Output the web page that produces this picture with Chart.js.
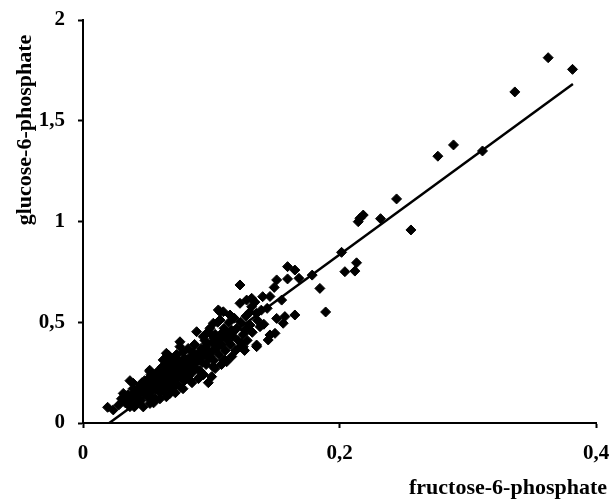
<!DOCTYPE html>
<html>
<head>
<meta charset="utf-8">
<script src="https://cdn.jsdelivr.net/npm/chart.js@4"></script>
<style>
    html, body { margin: 0; padding: 0; background: #fff; }
    #wrap { width: 611px; height: 501px; }
</style>
</head>
<body>
<div id="wrap"><canvas id="f6pChart"></canvas></div>
<script>
// Data
const xValues = [
    0.3627, 0.3817, 0.3367, 0.2889, 0.2767, 0.3115, 0.2445, 0.2146, 0.2159, 0.2185,
    0.232, 0.2557, 0.2016, 0.2133, 0.2042, 0.212, 0.1847, 0.1892, 0.1787, 0.1595,
    0.1652, 0.1595, 0.1684, 0.151, 0.1491, 0.1224, 0.1549, 0.1458, 0.1401, 0.1315,
    0.1354, 0.1436, 0.151, 0.1574, 0.1652, 0.1561, 0.138, 0.1458, 0.1497, 0.1444,
    0.1354, 0.1263, 0.1302, 0.1237, 0.1172, 0.1146, 0.1094, 0.1055, 0.1016, 0.1068,
    0.1224, 0.1276, 0.1315, 0.1003, 0.0938, 0.1107, 0.1003, 0.0977, 0.1354, 0.125,
    0.1094, 0.1016, 0.0912, 0.0834, 0.0192, 0.0236, 0.0314, 0.0392, 0.0522, 0.0665,
    0.0756, 0.0886, 0.1068, 0.0625, 0.0522, 0.0418, 0.034, 0.0561, 0.0704, 0.0808,
    0.0625, 0.0964, 0.112, 0.0366, 0.052, 0.065, 0.0756, 0.0964, 0.0366, 0.0522,
    0.0678, 0.0834, 0.112, 0.1224, 0.028, 0.030, 0.033, 0.035, 0.038, 0.040,
    0.042, 0.043, 0.045, 0.045, 0.047, 0.048, 0.050, 0.050, 0.051, 0.053,
    0.054, 0.055, 0.056, 0.057, 0.058, 0.059, 0.060, 0.060, 0.061, 0.062,
    0.063, 0.064, 0.065, 0.066, 0.067, 0.068, 0.068, 0.069, 0.070, 0.070,
    0.071, 0.072, 0.073, 0.073, 0.074, 0.075, 0.075, 0.076, 0.077, 0.078,
    0.078, 0.079, 0.080, 0.081, 0.082, 0.082, 0.083, 0.084, 0.085, 0.086,
    0.087, 0.088, 0.089, 0.090, 0.091, 0.092, 0.093, 0.094, 0.095, 0.096,
    0.097, 0.098, 0.099, 0.100, 0.101, 0.102, 0.103, 0.104, 0.105, 0.106,
    0.107, 0.108, 0.110, 0.111, 0.113, 0.114, 0.115, 0.117, 0.118, 0.119,
    0.120, 0.121, 0.123, 0.125, 0.127, 0.128, 0.130, 0.132, 0.134, 0.136,
    0.139, 0.141, 0.060, 0.055, 0.047, 0.040, 0.065, 0.072, 0.078, 0.085,
    0.090, 0.094, 0.103, 0.108, 0.116, 0.126, 0.036, 0.039, 0.044, 0.046,
    0.049, 0.052, 0.053, 0.057, 0.059, 0.062, 0.064, 0.066, 0.069, 0.071,
    0.074, 0.076, 0.079, 0.081, 0.084, 0.086, 0.088, 0.091, 0.093, 0.096,
    0.099, 0.102, 0.105, 0.109, 0.112, 0.116
];
const yValues = [
    1.813, 1.755, 1.643, 1.380, 1.324, 1.350, 1.112, 0.999, 1.016, 1.032,
    1.014, 0.958, 0.847, 0.795, 0.751, 0.754, 0.668, 0.551, 0.734, 0.776,
    0.759, 0.715, 0.718, 0.710, 0.673, 0.685, 0.610, 0.628, 0.627, 0.619,
    0.544, 0.569, 0.519, 0.528, 0.536, 0.495, 0.478, 0.437, 0.445, 0.412,
    0.379, 0.462, 0.486, 0.396, 0.453, 0.536, 0.552, 0.561, 0.495, 0.511,
    0.594, 0.610, 0.577, 0.437, 0.428, 0.313, 0.230, 0.200, 0.387, 0.379,
    0.313, 0.279, 0.230, 0.247, 0.078, 0.065, 0.147, 0.197, 0.255, 0.337,
    0.379, 0.453, 0.552, 0.180, 0.131, 0.097, 0.106, 0.213, 0.279, 0.313,
    0.313, 0.396, 0.445, 0.21, 0.262, 0.346, 0.403, 0.445, 0.081, 0.097,
    0.147, 0.213, 0.304, 0.379, 0.09, 0.12, 0.10, 0.14, 0.12, 0.15,
    0.13, 0.17, 0.11, 0.19, 0.15, 0.21, 0.13, 0.17, 0.22, 0.15,
    0.19, 0.24, 0.12, 0.17, 0.21, 0.26, 0.15, 0.19, 0.23, 0.28,
    0.16, 0.21, 0.25, 0.30, 0.18, 0.22, 0.27, 0.32, 0.16, 0.20,
    0.24, 0.29, 0.19, 0.34, 0.22, 0.26, 0.31, 0.18, 0.24, 0.28,
    0.35, 0.21, 0.26, 0.30, 0.23, 0.37, 0.27, 0.33, 0.25, 0.29,
    0.39, 0.27, 0.34, 0.31, 0.26, 0.37, 0.30, 0.34, 0.41, 0.29,
    0.36, 0.32, 0.47, 0.35, 0.40, 0.31, 0.44, 0.37, 0.50, 0.34,
    0.42, 0.39, 0.47, 0.36, 0.41, 0.50, 0.39, 0.43, 0.52, 0.36,
    0.47, 0.41, 0.50, 0.44, 0.53, 0.41, 0.55, 0.45, 0.60, 0.51,
    0.56, 0.49, 0.12, 0.10, 0.08, 0.08, 0.13, 0.15, 0.17, 0.20,
    0.22, 0.24, 0.27, 0.29, 0.33, 0.36, 0.13, 0.17, 0.15, 0.20,
    0.18, 0.20, 0.24, 0.22, 0.19, 0.25, 0.27, 0.20, 0.25, 0.28,
    0.30, 0.23, 0.32, 0.27, 0.30, 0.35, 0.32, 0.33, 0.36, 0.38,
    0.33, 0.42, 0.40, 0.45, 0.42, 0.46
];

// Regression line end points
const trendX = [0.0205, 0.382];
const trendY = [0, 1.682];

const xTicks = [0, 0.2, 0.4];
const yTicks = [0, 0.5, 1, 1.5, 2];
const xTitle = 'fructose-6-phosphate';
const yTitle = 'glucose-6-phosphate';

const serif = "'Liberation Serif', 'Times New Roman', serif";
const commaDecimal = value => String(value).replace('.', ',');

// axis titles sit off-centre in the reference, so draw them by hand
const axisTitles = {
    id: 'axisTitles',
    afterDraw(chart) {
        const { ctx, chartArea } = chart;
        ctx.save();
        ctx.fillStyle = '#000';
        ctx.font = 'bold 22px ' + serif;
        ctx.textAlign = 'right';
        ctx.textBaseline = 'alphabetic';
        ctx.fillText(xTitle, chartArea.right + 11, chartArea.bottom + 71);
        ctx.translate(chartArea.left - 58, chartArea.top + 110);
        ctx.rotate(-Math.PI / 2);
        ctx.textAlign = 'center';
        ctx.textBaseline = 'middle';
        ctx.fillText(yTitle, 0, 0);
        ctx.restore();
    }
};

const points = xValues.map((x, i) => ({ x: x, y: yValues[i] }));
const trend = trendX.map((x, i) => ({ x: x, y: trendY[i] }));

new Chart(document.getElementById('f6pChart'), {
    type: 'scatter',
    data: {
        datasets: [
            {
                data: points,
                pointStyle: 'rectRot',
                pointRadius: 5,
                pointBackgroundColor: '#000',
                pointBorderColor: '#000',
                pointBorderWidth: 1
            },
            {
                data: trend,
                showLine: true,
                borderColor: '#000',
                borderWidth: 2.5,
                pointRadius: 0
            }
        ]
    },
    options: {
        responsive: true,
        maintainAspectRatio: false,
        animation: false,
        layout: { padding: { top: 20, right: 15, left: 0, bottom: 0 } },
        scales: {
            x: {
                type: 'linear',
                min: 0,
                max: 0.4,
                afterFit: scale => {
                    scale.height = 78;
                    scale.paddingLeft = 0;
                    scale.paddingRight = 0;
                },
                afterBuildTicks: scale => { scale.ticks = xTicks.map(v => ({ value: v })); },
                grid: { drawOnChartArea: false, drawTicks: true, tickLength: 5, tickWidth: 2, tickColor: '#000' },
                border: { display: true, color: '#000', width: 2 },
                ticks: {
                    color: '#000',
                    padding: 13,
                    maxRotation: 0,
                    font: { family: serif, size: 21, weight: 'bold' },
                    callback: commaDecimal
                }
            },
            y: {
                type: 'linear',
                min: 0,
                max: 2,
                afterFit: scale => {
                    scale.width = 83;
                    scale.paddingTop = 0;
                    scale.paddingBottom = 0;
                },
                afterBuildTicks: scale => { scale.ticks = yTicks.map(v => ({ value: v })); },
                grid: { drawOnChartArea: false, drawTicks: true, tickLength: 5, tickWidth: 2, tickColor: '#000' },
                border: { display: true, color: '#000', width: 2 },
                ticks: {
                    color: '#000',
                    padding: 13,
                    font: { family: serif, size: 21, weight: 'bold' },
                    callback: commaDecimal
                }
            }
        },
        plugins: {
            legend: { display: false },
            tooltip: { enabled: false }
        }
    },
    plugins: [axisTitles]
});
</script>
</body>
</html>
